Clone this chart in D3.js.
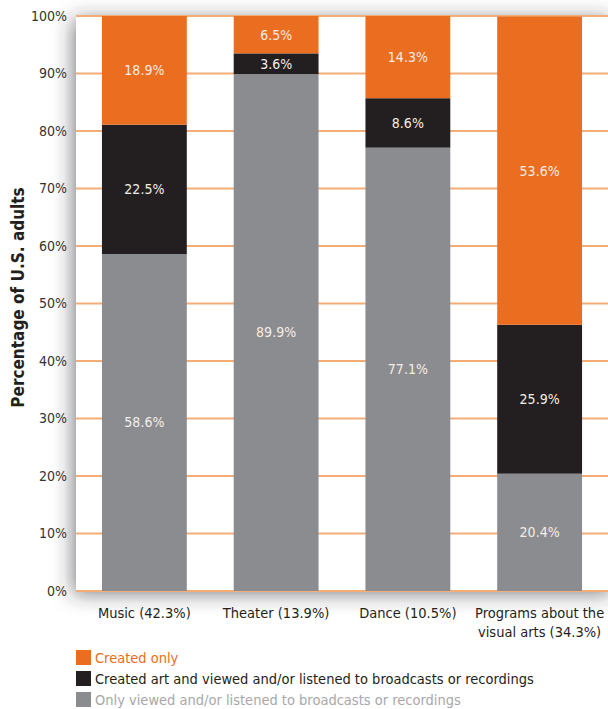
<!DOCTYPE html>
<html>
<head>
<meta charset="utf-8">
<script src="https://cdn.jsdelivr.net/npm/d3@7"></script>
<style>
  body { margin: 0; background: #fff; }
  svg { display: block; font-family: "DejaVu Sans Condensed", "Open Sans", sans-serif; }
</style>
</head>
<body>
<div id="chart"></div>
<script>
const categories = ["Music (42.3%)", "Theater (13.9%)", "Dance (10.5%)", "Programs about the|visual arts (34.3%)"];
const onlyViewed = [58.6, 89.9, 77.1, 20.4];
const createdAndViewed = [22.5, 3.6, 8.6, 25.9];
const createdOnly = [18.9, 6.5, 14.3, 53.6];
const seriesNames = ["Created only", "Created art and viewed and/or listened to broadcasts or recordings", "Only viewed and/or listened to broadcasts or recordings"];
const yTicks = [0, 10, 20, 30, 40, 50, 60, 70, 80, 90, 100];

const width = 608, height = 709;
const plot = { left: 76, right: 614, top: 16, bottom: 591 };

var orange = '#ea6d20',
    black = '#231f20',
    grey = '#8b8c8f',
    gridColor = '#f5ad78';

const rows = categories.map((c, i) => ({
    cat: c, grey: onlyViewed[i], black: createdAndViewed[i], orange: createdOnly[i]
}));

const stack = d3.stack().keys(["grey", "black", "orange"]);
const series = stack(rows);
const colors = { grey: grey, black: black, orange: orange };

const x = d3.scaleBand()
    .domain(categories)
    .range([plot.left, 608])
    .paddingInner(0.356)
    .paddingOuter(0.197);

const y = d3.scaleLinear().domain([0, 100]).range([plot.bottom, plot.top]);

const svg = d3.select("#chart").append("svg")
    .attr("width", width)
    .attr("height", height);

// soft shadow round the plot panel
const defs = svg.append("defs");
const f = defs.append("filter").attr("id", "shadow")
    .attr("x", "-20%").attr("y", "-20%").attr("width", "140%").attr("height", "140%");
f.append("feDropShadow")
    .attr("dx", -3).attr("dy", 3)
    .attr("stdDeviation", 10)
    .attr("flood-color", "#2a2d33")
    .attr("flood-opacity", 0.6);

svg.append("rect")
    .attr("x", plot.left)
    .attr("y", plot.top)
    .attr("width", plot.right - plot.left)
    .attr("height", plot.bottom - plot.top)
    .attr("fill", "#fff")
    .attr("filter", "url(#shadow)");

// gridlines behind the bars
svg.append("g")
    .selectAll("line")
    .data(yTicks)
    .join("line")
    .attr("x1", plot.left)
    .attr("x2", width)
    .attr("y1", d => y(d))
    .attr("y2", d => y(d))
    .attr("stroke", gridColor)
    .attr("stroke-width", 2);

// y tick labels
svg.append("g")
    .selectAll("text")
    .data(yTicks)
    .join("text")
    .attr("x", 67)
    .attr("y", d => y(d))
    .attr("dy", "0.35em")
    .attr("text-anchor", "end")
    .attr("font-size", 14)
    .attr("fill", "#333")
    .text(d => d + "%");

// axis title
svg.append("text")
    .attr("transform", `translate(24,${(plot.top + plot.bottom) / 2 - 6}) rotate(-90)`)
    .attr("text-anchor", "middle")
    .attr("font-size", 17)
    .attr("font-weight", "bold")
    .attr("fill", "#231f20")
    .text("Percentage of U.S. adults");

// stacked bars
const layers = svg.append("g")
    .selectAll("g")
    .data(series)
    .join("g")
    .attr("fill", d => colors[d.key]);

layers.selectAll("rect")
    .data(d => d)
    .join("rect")
    .attr("x", d => x(d.data.cat))
    .attr("width", x.bandwidth())
    .attr("y", d => y(d[1]))
    .attr("height", d => y(d[0]) - y(d[1]));

// value labels inside segments
layers.selectAll("text")
    .data(d => d.map(v => Object.assign({ key: d.key }, v)))
    .join("text")
    .attr("x", d => x(d.data.cat) + x.bandwidth() / 2)
    .attr("y", d => (y(d[0]) + y(d[1])) / 2)
    .attr("dy", "0.35em")
    .attr("text-anchor", "middle")
    .attr("font-size", 14)
    .attr("fill", "#f7ece4")
    .text(d => d.data[d.key].toFixed(1) + "%");

// x category labels
const xl = svg.append("g")
    .selectAll("text")
    .data(categories)
    .join("text")
    .attr("x", d => x(d) + x.bandwidth() / 2)
    .attr("y", 618)
    .attr("text-anchor", "middle")
    .attr("font-size", 14.5)
    .attr("fill", "#231f20");
xl.each(function (d) {
    const parts = d.split("|");
    const t = d3.select(this);
    parts.forEach((p, i) => {
        t.append("tspan")
            .attr("x", x(d) + x.bandwidth() / 2)
            .attr("dy", i === 0 ? 0 : 19)
            .text(p);
    });
});

// legend
const legendColors = [orange, black, grey];
const legendText = ["#ea6d20", "#231f20", "#a7a8ab"];
const lg = svg.append("g")
    .selectAll("g")
    .data(seriesNames)
    .join("g")
    .attr("transform", (d, i) => `translate(76,${650 + i * 21})`);
lg.append("rect")
    .attr("width", 15)
    .attr("height", 15)
    .attr("fill", (d, i) => legendColors[i]);
lg.append("text")
    .attr("x", 19)
    .attr("y", 13)
    .attr("font-size", 14.5)
    .attr("fill", (d, i) => legendText[i])
    .text(d => d);
</script>
</body>
</html>
